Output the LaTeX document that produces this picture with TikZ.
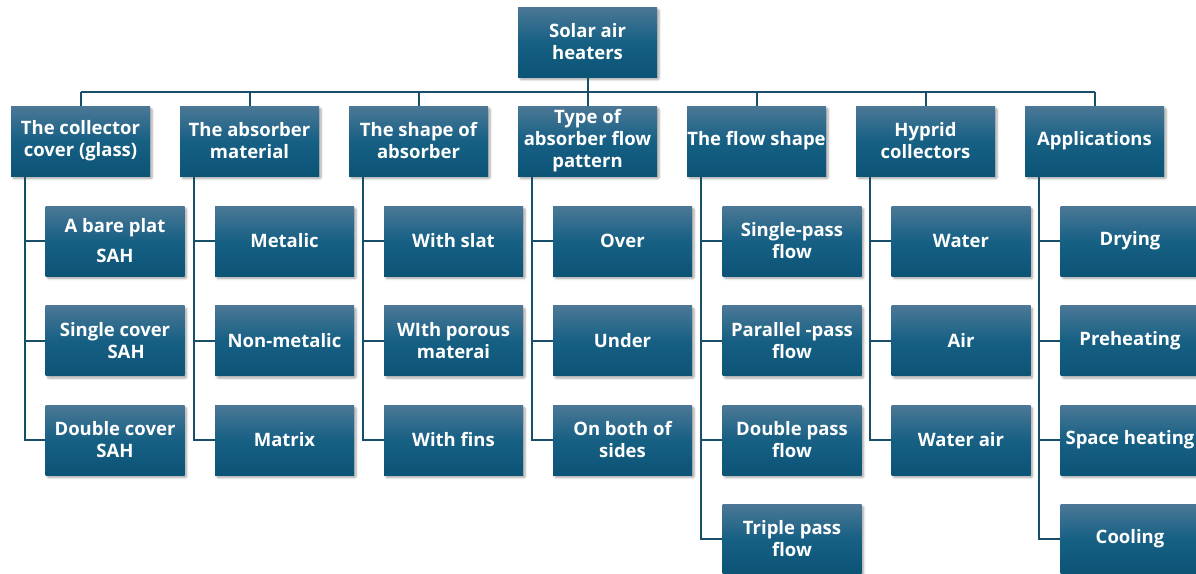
\documentclass[tikz,border=0pt]{standalone}
\usepackage{fontspec}
\setmainfont{Open Sans}
\usetikzlibrary{shadows.blur}
\definecolor{boxtop}{RGB}{76,120,150}
\definecolor{boxmid}{RGB}{22,96,132}
\definecolor{boxbot}{RGB}{12,84,118}
\definecolor{linec}{RGB}{24,78,104}
\tikzset{
  box/.style={minimum width=139pt, minimum height=70pt, inner sep=0pt, align=center,
    text=white, font=\fontsize{18.5}{22}\selectfont\bfseries,
    top color=boxtop, bottom color=boxbot, middle color=boxmid, draw=none,
    blur shadow={shadow blur steps=6, shadow xshift=2pt, shadow yshift=-2.5pt, shadow opacity=35, shadow blur extra rounding=1pt}},
  conn/.style={draw=linec, line width=2pt},
}
\begin{document}
\begin{tikzpicture}[x=1pt,y=-1pt]
\useasboundingbox (0,0) rectangle (1196,573);
\coordinate (bus) at (0,92);
% root
\node[box] (root) at (587.5,42) {Solar air\\heaters};
% level 1
\node[box] (p1) at (80.5,141) {The collector\\cover (glass)};
\node[box] (p2) at (249.5,141) {The absorber\\material};
\node[box] (p3) at (418.5,141) {The shape of\\absorber};
\node[box] (p4) at (587.5,141) {Type of\\absorber flow\\pattern};
\node[box] (p5) at (756.5,141) {The flow shape};
\node[box] (p6) at (925.5,141) {Hyprid\\collectors};
\node[box] (p7) at (1094.5,141) {Applications};
% children
\node[box] (c11) at (115,241) {A bare plat\\[8pt]SAH};
\node[box] (c12) at (115,340.5) {Single cover\\\hspace*{1.2em}SAH};
\node[box] (c13) at (115,440) {Double cover\\SAH};
\node[box] (c21) at (284.5,241) {Metalic};
\node[box] (c22) at (284.5,340.5) {Non-metalic};
\node[box] (c23) at (284.5,440) {Matrix};
\node[box] (c31) at (453.5,241) {With slat};
\node[box] (c32) at (453.5,340.5) {WIth porous\\materai};
\node[box] (c33) at (453.5,440) {With fins};
\node[box] (c41) at (622.5,241) {Over};
\node[box] (c42) at (622.5,340.5) {Under};
\node[box] (c43) at (622.5,440) {On both of\\sides};
\node[box] (c51) at (792,241) {Single-pass\\flow};
\node[box] (c52) at (792,340.5) {Parallel -pass\\flow};
\node[box] (c53) at (792,440) {Double pass\\flow};
\node[box] (c54) at (792,539) {Triple pass\\flow};
\node[box] (c61) at (961,241) {Water};
\node[box] (c62) at (961,340.5) {Air};
\node[box] (c63) at (961,440) {Water air};
\node[box] (c71) at (1130,241) {Drying};
\node[box] (c72) at (1130,340.5) {Preheating};
\node[box] (c73) at (1130,440) {Space heating};
\node[box] (c74) at (1130,539) {Cooling};
% bus
\draw[conn] (root.south) -- (root.south |- bus);
\draw[conn] (p1.north |- bus) -- (p7.north |- bus);
\foreach \p in {p1,p2,p3,p4,p5,p6,p7}{
  \draw[conn] (\p.north |- bus) -- (\p.north);
}
\foreach \p/\cs in {p1/{c11,c12,c13},p2/{c21,c22,c23},p3/{c31,c32,c33},p4/{c41,c42,c43},p5/{c51,c52,c53,c54},p6/{c61,c62,c63},p7/{c71,c72,c73,c74}}{
  \foreach \c in \cs {
    \draw[conn] ([xshift=14pt]\p.south west) |- (\c.west);
  }
}
\end{tikzpicture}
\end{document}
